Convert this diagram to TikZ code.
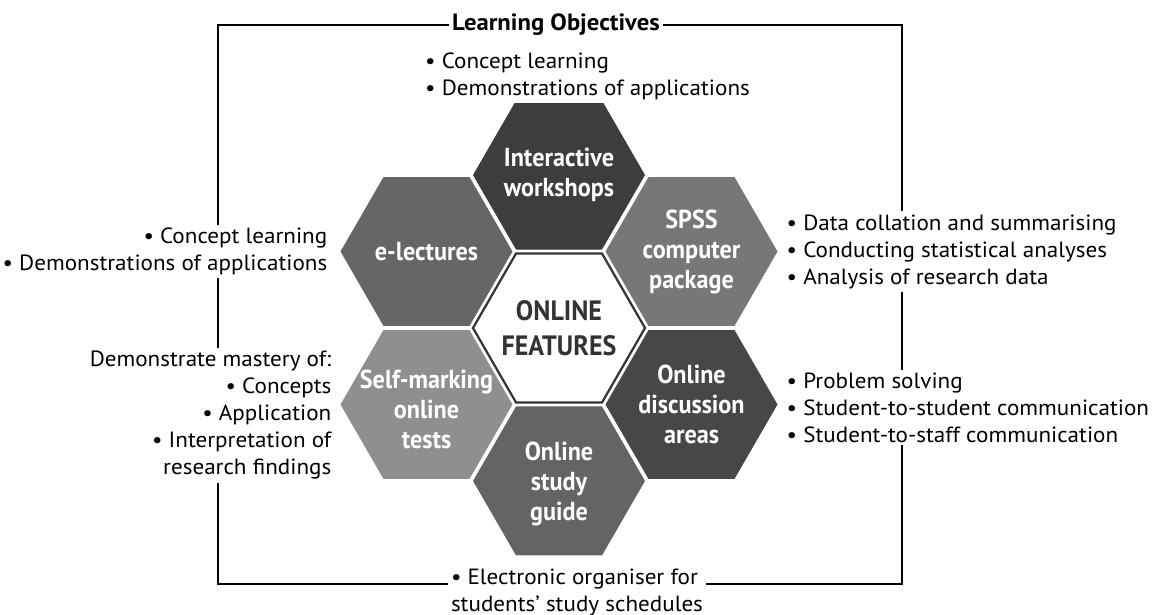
\documentclass[tikz,border=0pt]{standalone}
\usepackage{fontspec}
\setmainfont{PT Sans}[FakeStretch=1.05]
\newfontfamily\hexfont[FakeStretch=0.93]{PT Sans}
\usepackage{tikz}
\usepackage{xcolor}
\usetikzlibrary{shapes, positioning}

\definecolor{coreline}{HTML}{333333}
\definecolor{darkcell}{HTML}{3D3D3D}
\definecolor{midcell}{HTML}{686868}
\definecolor{lightcell}{HTML}{8F8F8F}

\begin{document}
\begin{tikzpicture}[
            x=1pt, y=1pt,
            hexcell/.style={regular polygon, regular polygon sides=6, minimum size=172pt, inner sep=0pt, outer sep=0pt},
            hexlabel/.style={font=\hexfont\bfseries\fontsize{26}{30}\selectfont, text=white, align=center, inner sep=0pt},
            goals/.style={font=\fontsize{22}{27}\selectfont, fill=white, inner sep=3pt},
        ]
            \useasboundingbox (0,0) rectangle (1168,615);
            \coordinate (framenw) at (218,590);
            \coordinate (framese) at (902,31);
            \draw[line width=2pt] (framenw) rectangle (framese);

            \node[hexcell, fill=white, draw=coreline, line width=2.2pt,
                label={[hexlabel, text=coreline, font=\hexfont\bfseries\fontsize{28}{35}\selectfont]center:{ONLINE\\FEATURES}}] (core) at (559,287) {};
            \node[hexcell, fill=darkcell, above=4pt of core,
                label={[hexlabel]center:{Interactive\\workshops}}] (workshops) {};
            \node[hexcell, fill=midcell!96!black, below=4pt of core,
                label={[hexlabel, yshift=-3pt]center:{Online\\study\\guide}}] (guide) {};
            \node[hexcell, fill=midcell!98!black] (lectures) at ([shift={(150:153pt)}]core.center) {};
            \node[hexlabel] at (lectures) {e-lectures};
            \node[hexcell, fill=midcell!90!white,
                label={[hexlabel]center:{SPSS\\computer\\package}}] (spss) at ([shift={(30:153pt)}]core.center) {};
            \node[hexcell, fill=darkcell!95!white,
                label={[hexlabel]center:{Online\\discussion\\areas}}] (discussion) at ([shift={(-30:153pt)}]core.center) {};
            \node[hexcell, fill=lightcell,
                label={[hexlabel, yshift=-5pt]center:{Self-marking\\online\\tests}}] (tests) at ([shift={(-150:153pt)}]core.center) {};

            \node[goals, font=\bfseries\fontsize{23.5}{27}\selectfont] (objectives) at (556,590) {Learning Objectives};
            \node[goals, align=left, anchor=west] (workshopgoals) at (422,539)
                {\textbullet\ Concept learning\\\textbullet\ Demonstrations of applications};
            \node[goals, align=right, left=10pt of lectures] (lecturegoals)
                {\textbullet\ Concept learning\\\textbullet\ Demonstrations of applications};
            \node[goals, align=left, right=6pt of spss] (spssgoals)
                {\textbullet\ Data collation and summarising\\\textbullet\ Conducting statistical analyses\\\textbullet\ Analysis of research data};
            \node[goals, align=left, right=6pt of discussion, yshift=-3pt] (discussiongoals)
                {\textbullet\ Problem solving\\\textbullet\ Student-to-student communication\\\textbullet\ Student-to-staff communication};
            \node[goals, align=right, left=6pt of tests, yshift=-11pt] (testgoals)
                {Demonstrate mastery of:\\\textbullet\ Concepts\\\textbullet\ Application\\\textbullet\ Interpretation of\\research findings};
            \node[goals, align=left, below=10pt of guide, xshift=18pt] (guidegoals)
                {\textbullet\ Electronic organiser for\\students' study schedules};
        \end{tikzpicture}
\end{document}
